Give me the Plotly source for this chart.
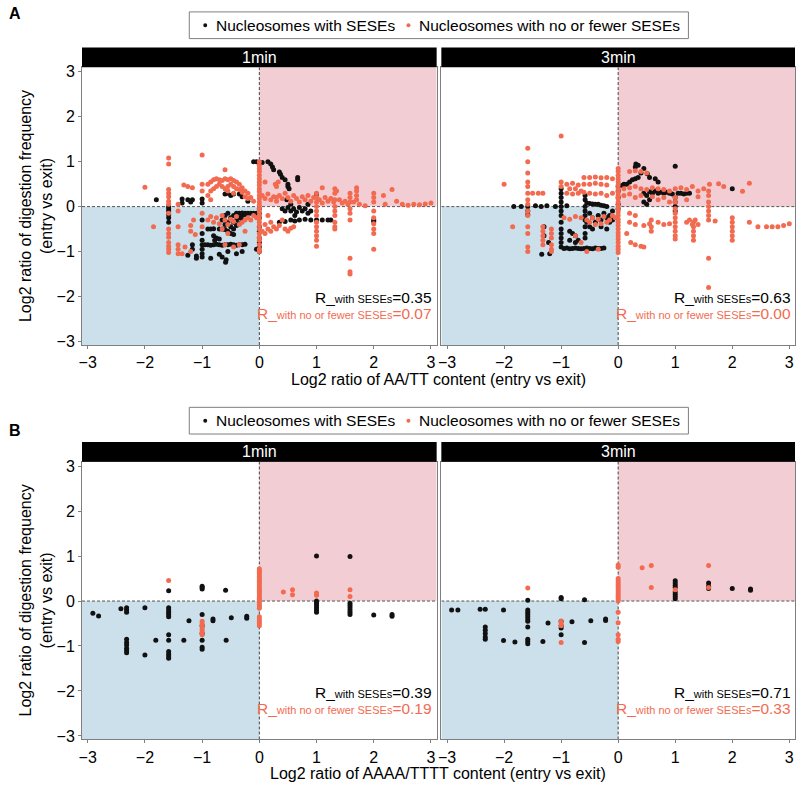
import plotly.graph_objects as go

# ---------------- DATA ----------------
facets = ["1min", "3min"]
tick_vals = [-3, -2, -1, 0, 1, 2, 3]
tick_text = ["\u22123", "\u22122", "\u22121", "0", "1", "2", "3"]
legend_names = ["Nucleosomes with SESEs", "Nucleosomes with no or fewer SESEs"]
r_ses = {"A1": "0.35", "A3": "0.63", "B1": "0.39", "B3": "0.71"}
r_noses = {"A1": "0.07", "A3": "0.00", "B1": "0.19", "B3": "0.33"}
x_titles = ["Log2 ratio of AA/TT content (entry vs exit)",
            "Log2 ratio of AAAA/TTTT content (entry vs exit)"]
y_title = "Log2 ratio of digestion frequency<br>(entry vs exit)"

# Panel A, 1min, with SESEs
a1_ses_x = [-1.585, -1.585, -1.585, -1.585, -1.585, -1.585, -1.8, -1.35, -1.25, -1.35, -1.2, -1.17,
            -1.0, -1.0, -1.0, -1.0, -1.0, -1.0, -1.0, -1.0, -1.0, -1.17, -1.17, -1.25, -1.1, -1.1,
            -0.95, -0.9, -0.85, -0.8, -0.75, -0.7, -0.65, -0.6, -0.55, -0.5, -0.45, -0.4, -0.35, -0.3, -0.25,
            -0.9, -0.85, -0.8, -0.7, -0.65, -0.6, -0.8, -0.75, -0.7, -0.78,
            -0.7, -0.59, -0.58, -0.55, -0.4, -0.3, -0.85, -0.65,
            -0.65, -0.6, -0.6, -0.55, -0.55, -0.5, -0.5, -0.45, -0.45, -0.45, -0.4, -0.4, -0.4, -0.35, -0.35,
            -0.3, -0.3, -0.25, -0.55, -0.5, -0.45,
            -0.35, -0.3, -0.25, -0.2, -0.15, -0.1, -0.05,
            -0.6, -0.55, -0.5, -0.45, -0.35, -0.3, -0.2,
            0.0, 0.0, 0.0, 0.0, 0.0, 0.0, 0.0, 0.0, 0.0, -0.05,
            -0.1, -0.05, 0.05, 0.15, 0.2, 0.23, 0.25, 0.35, 0.37, 0.4, 0.45, 0.5, 0.5, 0.52, 0.67, 0.67, 0.48, 0.55,
            0.4, 0.45, 0.5, 0.55, 0.6, 0.65, 0.7, 0.75, 0.8, 0.85, 0.9,
            0.35, 0.45, 0.55, 0.62, 0.7, 0.8, 0.9, 1.0, 1.1, 1.2, 1.25,
            1.0, 0.85, 0.62, 2.0, 2.0]
a1_ses_y = [0.0, -0.05, -0.1, -0.18, -0.25, -0.35, 0.15, 0.17, 0.15, 0.08, 0.1, 0.15,
            0.17, 0.08, -0.3, -0.6, -0.75, -0.85, -0.95, -1.05, -1.12, -0.85, -0.95, -1.08, -1.1, -1.15,
            -0.85, -0.85, -0.86, -0.85, -0.84, -0.85, -0.86, -0.85, -0.85, -0.84, -0.85, -0.86, -0.85, -0.85, -0.84,
            -0.5, -0.5, -0.49, -0.5, -0.5, -0.51, -0.65, -0.7, -0.72, -0.75,
            -1.06, -1.24, -1.18, -1.0, -1.05, -1.0, -1.15, -1.12,
            -0.3, -0.2, -0.4, -0.15, -0.35, -0.25, -0.45, -0.2, -0.35, -0.5, -0.15, -0.3, -0.42, -0.25, -0.38,
            -0.2, -0.3, -0.18, -0.55, -0.6, -0.62,
            -0.15, -0.14, -0.15, -0.15, -0.15, -0.15, -0.15,
            0.28, 0.3, 0.25, 0.28, 0.28, 0.22, 0.12,
            -0.05, -0.15, -0.25, -0.45, -0.55, -0.7, -0.8, -0.9, -1.0, -0.95,
            1.0, 1.0, 0.98, 1.0, 0.95, 0.88, 0.82, 0.77, 0.72, 0.65, 0.6, 0.5, 0.45, 0.4, 0.65, 0.6, 0.15, 0.05,
            -0.05, -0.1, -0.02, -0.1, -0.05, -0.12, -0.02, -0.1, -0.05, -0.15, -0.1,
            -0.35, -0.33, -0.3, -0.32, -0.3, -0.28, -0.3, -0.3, -0.3, -0.3, -0.3,
            0.28, 0.05, -0.2, -0.33, -0.3]

# Panel A, 1min, no or fewer SESEs
a1_noses_x = [-2.0, -1.85,
              -1.585, -1.585, -1.585, -1.585, -1.585, -1.585, -1.585, -1.585, -1.585, -1.585, -1.585, -1.585, -1.585, -1.585, -1.585,
              -1.32, -1.42, -1.42, -1.42, -1.42, -1.42, -1.42, -1.25, -1.17, -1.15, -1.2, -1.2, -1.2,
              -1.0, -1.0, -1.0, -1.0, -1.0, -0.6,
              -0.9, -0.85, -0.8, -0.75, -0.7, -0.65, -0.6, -0.55, -0.5, -0.45, -0.4, -0.35, -0.3, -0.25, -0.2, -0.15, -0.1,
              -0.85, -0.8, -0.75, -0.7, -0.65, -0.6, -0.55, -0.5, -0.45, -0.4, -0.3, -0.25, -0.2, -0.55, -0.45, -0.35, -0.9, -0.85,
              -0.9, -0.85, -0.8, -0.75, -0.7, -0.65, -0.6, -0.55, -0.5, -0.45, -0.4, -0.35, -0.3, -0.25, -0.2, -0.15, -0.1, -0.05,
              -0.65, -0.55, -0.6, -0.45, -0.35, -0.25, -1.3, -1.35, -1.12,
              0.0, 0.0, 0.0, 0.0, 0.0, 0.0, 0.0, 0.0, 0.0, 0.0, 0.0, 0.0, 0.0, 0.0, 0.0, 0.0, 0.0, 0.0, 0.0, 0.0, 0.0, 0.0, 0.0, 0.0, 0.0, 0.0, 0.0,
              0.1, 0.3, 0.3, 0.28, 0.33,
              0.05, 0.1, 0.15, 0.2, 0.25, 0.3, 0.35, 0.4, 0.45, 0.5, 0.55, 0.6, 0.65, 0.7, 0.75, 0.8, 0.85, 0.9, 0.95, 1.05,
              1.1, 1.15, 1.2, 1.25, 1.3, 1.4, 1.45, 1.5, 1.55, 1.65, 1.75, 1.85, 2.2, 2.4, 2.5, 2.6, 2.7, 2.8, 2.9, 3.0,
              1.0, 1.0, 1.0, 1.0, 1.0, 1.0, 1.0, 1.0, 1.0, 1.0, 1.0, 1.0,
              1.32, 1.32, 1.32, 1.32, 1.32, 1.32, 1.32, 1.32, 1.32,
              1.585, 1.585, 1.585, 1.585, 1.585, 1.585, 1.585, 1.585, 1.585,
              1.7, 1.7, 1.7, 1.7,
              2.0, 2.0, 2.0, 2.0, 2.0, 2.0, 2.0, 2.0, 2.0,
              2.17, 2.32, 1.1, 1.35,
              0.05, 0.1, 0.15, 0.2, 0.25, 0.3, 0.35, 0.45, 0.5, 0.55, 0.6, 0.1, 0.2, 0.4, 0.15]
a1_noses_y = [0.43, -0.45,
              1.08, 0.95, 0.38, 0.3, 0.22, 0.12, 0.05, -0.15, -0.5, -0.6, -0.68, -0.8, -0.88, -0.95, -1.02,
              0.48, 0.05, -0.1, -0.45, -0.85, -0.95, -1.05, 0.45, 0.42, -0.3, -0.42, -0.55, -1.0,
              1.15, 0.5, 0.35, -0.15, -0.45, 0.82,
              0.5, 0.55, 0.6, 0.62, 0.6, 0.58, 0.62, 0.6, 0.62, 0.58, 0.55, 0.5, 0.42, 0.35, 0.3, 0.2, 0.12,
              0.35, 0.4, 0.45, 0.5, 0.45, 0.4, 0.45, 0.5, 0.45, 0.4, 0.32, 0.22, 0.18, 0.35, 0.3, 0.38, 0.25, 0.15,
              -0.3, -0.22, -0.35, -0.25, -0.38, -0.2, -0.3, -0.4, -0.28, -0.33, -0.22, -0.4, -0.35, -0.3, -0.25, -0.3, -0.2, -0.25,
              -0.5, -0.6, -0.85, -0.9, -0.85, -0.55, -0.9, -1.05, -0.62,
              1.0, 0.92, 0.85, 0.78, 0.7, 0.62, 0.55, 0.48, 0.4, 0.33, 0.25, 0.18, 0.1, 0.03, -0.05, -0.12, -0.2, -0.28, -0.35, -0.42, -0.5, -0.6, -0.68, -0.75, -0.85, -0.95, -1.0,
              0.55, 0.45, 0.2, 0.5, 0.55,
              0.25, 0.18, 0.28, 0.15, 0.22, 0.12, 0.25, 0.18, 0.3, 0.2, 0.12, 0.25, 0.18, 0.1, 0.22, 0.15, 0.25, 0.12, 0.2, 0.15,
              0.08, 0.2, 0.12, 0.18, 0.1, 0.15, 0.08, 0.12, 0.05, 0.1, 0.05, 0.02, 0.05, 0.12, 0.05, 0.03, 0.05, 0.04, 0.06, 0.08,
              0.3, 0.2, 0.1, 0.0, -0.1, -0.2, -0.35, -0.45, -0.55, -0.65, -0.75, -0.88,
              0.4, 0.3, 0.15, 0.0, -0.1, -0.2, -0.35, -0.45, -0.5,
              0.3, 0.2, 0.1, -0.05, -0.15, -0.3, -1.15, -1.45, -1.5,
              0.42, 0.35, 0.25, 0.15,
              0.3, 0.2, 0.1, -0.1, -0.25, -0.38, -0.5, -0.6, -0.95,
              0.25, 0.38, 0.42, 0.35,
              -0.55, -0.6, -0.5, -0.55, -0.45, -0.5, -0.42, -0.5, -0.55, -0.48, -0.45, -0.4, -0.35, -0.3, -0.2]

# Panel A, 3min, with SESEs
a3_ses_x = [-1.83, -1.7, -1.585, -1.45, -1.35, -1.25, -1.1, -1.0, -0.9, -1.585, -1.585,
            -1.3, -1.3, -1.22, -1.34, -1.2,
            -1.0, -1.0, -1.0, -1.0, -1.0, -1.0, -1.0, -1.0, -1.0, -1.0, -1.0, -1.0,
            -0.85, -0.8, -0.75, -0.85,
            -0.95, -0.9, -0.85, -0.8, -0.75, -0.7, -0.65, -0.6, -0.55, -0.5, -0.45, -0.4, -0.35, -0.3, -0.25,
            -0.7, -0.75,
            -0.58, -0.58, -0.58, -0.58, -0.58, -0.58, -0.58, -0.58, -0.58,
            -0.55, -0.5, -0.45, -0.4, -0.35, -0.3, -0.25, -0.2,
            -0.5, -0.45, -0.4, -0.35, -0.3, -0.25, -0.2, -0.15, -0.1, -0.5, -0.45, -0.3, -0.15, -0.1, -0.55, -0.2,
            0.0, 0.0, 0.0, 0.0, 0.0,
            0.07, 0.1, 0.15, 0.2, 0.25, 0.3, 0.35, 0.4, 0.31, 0.35, 0.3, 0.45, 0.51, 0.55, 0.65, 0.7, 1.0,
            0.45, 0.5, 0.55, 0.6, 0.65, 0.7, 0.75, 0.8, 0.85, 0.9, 0.95, 1.05, 1.1, 1.15, 1.2, 1.25,
            0.45, 0.5, 0.55,
            1.0, 1.0, 1.0, 1.0, 2.0]
a3_ses_y = [0.0, 0.0, 0.0, 0.02, 0.0, 0.02, 0.0, 0.0, 0.02, -0.1, -0.18,
            -0.45, -0.65, -0.8, -1.06, -1.05,
            0.4, 0.3, 0.2, 0.1, -0.1, -0.2, -0.35, -0.5, -0.6, -0.7, -0.8, -0.9,
            -0.55, -0.6, -0.65, -0.75,
            -0.93, -0.92, -0.94, -0.93, -0.92, -0.93, -0.94, -0.93, -0.92, -0.93, -0.94, -0.92, -0.93, -0.93, -0.92,
            -0.75, -0.8,
            0.25, 0.15, 0.0, -0.1, -0.2, -0.3, -0.45, -0.6, -0.7,
            0.08, 0.07, 0.06, 0.05, 0.05, 0.03, 0.02, 0.0,
            -0.15, -0.25, -0.35, -0.2, -0.3, -0.15, -0.25, -0.2, -0.1, -0.45, -0.5, -0.45, -0.35, -0.3, -0.35, -0.5,
            0.45, 0.35, 0.2, 0.05, -0.05,
            0.47, 0.5, 0.5, 0.55, 0.6, 0.62, 0.65, 0.75, 0.95, 0.92, 0.88, 0.85, 0.73, 0.65, 0.62, 0.55, 0.9,
            0.3, 0.25, 0.33, 0.3, 0.35, 0.3, 0.32, 0.3, 0.32, 0.3, 0.28, 0.3, 0.3, 0.28, 0.3, 0.3,
            0.1, 0.05, 0.15,
            0.2, 0.1, 0.0, -0.1, 0.4]

# Panel A, 3min, no or fewer SESEs
a3_noses_x = [-2.0, -1.85,
              -1.585, -1.585, -1.585, -1.585, -1.585, -1.585, -1.585, -1.585, -1.585, -1.585, -1.585, -1.585, -1.585, -1.585,
              -1.5, -1.4,
              -1.32, -1.32, -1.32, -1.32, -1.32, -1.32,
              -1.17, -1.17, -1.17, -1.17, -1.17, -1.17,
              -1.0, -1.0, -1.0,
              -0.9, -0.8, -0.7, -0.6, -0.5, -0.4, -0.3, -0.2,
              -0.6, -0.5, -0.4, -0.3, -0.2, -0.1,
              -0.9, -0.8, -0.7, -0.6, -0.5, -0.4, -0.3, -0.2, -0.1,
              -0.85, -0.75, -0.65,
              -0.95, -0.85, -0.75, -0.65, -0.55, -0.45, -0.35, -0.25, -0.15, -0.1, -0.05,
              -0.5, -0.4, -0.3, -0.2, -0.75, -0.65, -0.55, -0.35,
              0.0, 0.0, 0.0, 0.0, 0.0, 0.0, 0.0, 0.0, 0.0, 0.0, 0.0, 0.0, 0.0, 0.0, 0.0, 0.0, 0.0, 0.0, 0.0, 0.0, 0.0, 0.0, 0.0, 0.0, 0.0, 0.0,
              0.2, 0.3, 0.4, 0.5,
              0.1, 0.2, 0.3, 0.4, 0.5, 0.6, 0.7, 0.8, 0.9, 1.0, 1.1, 1.2, 1.3, 1.4, 1.5, 1.6,
              0.1, 0.2, 0.3, 0.4, 0.6, 0.7, 0.8, 0.9, 1.2, 1.4, 1.76, 1.85, 2.3, 2.18,
              0.2, 0.3, 0.45, 0.55, 0.7, 0.8, 0.9, 1.2, 1.3, 1.4, 1.7, 2.3, 2.45, 2.6, 2.7, 2.8, 2.9, 3.0,
              0.2, 0.3, 0.15, 0.22, 0.3, 0.4, 0.45,
              0.58, 0.58, 0.58,
              1.0, 1.0, 1.0, 1.0, 1.0, 1.0, 1.0, 1.0, 1.0, 1.0,
              1.32, 1.32, 1.32, 1.32, 1.32,
              1.585, 1.585, 1.585, 1.585, 1.585, 1.585, 1.585, 1.585, 1.585,
              2.0, 2.0, 2.0, 2.0, 2.0, 2.0,
              1.25, 1.35]
a3_noses_y = [0.5, -0.45,
              1.3, 1.0, 0.75, 0.55, 0.45, 0.3, 0.15, 0.05, -0.1, -0.2, -0.45, -0.6, -0.9, -1.0,
              0.3, 0.3,
              0.3, -0.45, -0.55, -0.65, -0.75, -0.85,
              -0.5, -0.6, -0.7, -0.85, -0.95, -1.0,
              1.57, 0.55, 0.45,
              0.5, 0.52, 0.48, 0.5, 0.5, 0.52, 0.5, 0.48,
              0.65, 0.65, 0.66, 0.64, 0.65, 0.62,
              0.3, 0.28, 0.3, 0.32, 0.3, 0.28, 0.3, 0.25, 0.3,
              0.4, 0.4, 0.35,
              -0.25, -0.28, -0.22, -0.25, -0.3, -0.25, -0.28, -0.22, -0.3, -0.2, -0.25,
              -0.35, -0.4, -0.38, -0.35, -0.65, -0.8, -1.0, -0.95,
              0.85, 0.78, 0.7, 0.62, 0.55, 0.48, 0.4, 0.32, 0.25, 0.18, 0.1, 0.02, -0.05, -0.12, -0.2, -0.28, -0.35, -0.42, -0.5, -0.58, -0.65, -0.72, -0.8, -0.88, -0.95, -1.02,
              0.78, 0.8, 0.78, 0.75,
              0.4, 0.42, 0.45, 0.4, 0.38, 0.42, 0.4, 0.38, 0.35, 0.4, 0.42, 0.38, 0.45, 0.35, 0.4, 0.5,
              0.25, 0.28, 0.2, 0.25, 0.22, 0.15, 0.2, 0.1, 0.15, 0.22, 0.51, 0.45, 0.52, 0.34,
              -0.35, -0.4, -0.42, -0.38, -0.35, -0.4, -0.38, -0.35, -0.4, -0.4, -0.32, -0.35, -0.45, -0.45, -0.45, -0.45, -0.42, -0.38,
              -0.15, -0.2, -0.6, -0.8, -0.85, -0.88, -0.9,
              -0.3, -0.45, -0.55,
              0.2, 0.1, -0.05, -0.15, -0.25, -0.35, -0.45, -0.55, -0.65, -0.72,
              -0.35, -0.45, -0.55, -0.65, -0.75,
              0.35, 0.25, 0.1, 0.0, -0.1, -0.2, -0.3, -1.15, -1.8,
              -0.25, -0.35, -0.45, -0.55, -0.65, -0.75,
              -0.3, -0.3]

# Panel B, 1min, with SESEs
b1_ses_x = [-2.91, -2.81, -2.42, -2.32, -2.32, -2.32, -2.32, -2.32, -2.32, -2.32, -2.32, -2.32,
            -2.0, -2.0, -1.81,
            -1.585, -1.585, -1.585, -1.585, -1.585, -1.585, -1.585, -1.585, -1.585, -1.585, -1.585, -1.585,
            -1.32, -1.23, -1.0, -1.0, -1.0, -1.0, -1.0, -1.0, -1.0, -1.0, -1.0,
            -0.81, -0.81, -0.59, -0.58, -0.49, -0.22, -0.22,
            1.0, 1.0, 1.0, 1.0, 1.0, 1.0, 1.0,
            1.585, 1.585, 1.585, 1.585, 1.585, 1.585, 1.585,
            2.0, 2.32, 2.32]
b1_ses_y = [-0.27, -0.33, -0.17, -0.15, -0.2, -0.25, -0.85, -0.92, -0.98, -1.05, -1.1, -1.15,
            -0.15, -1.2, -0.87,
            0.23, -0.15, -0.2, -0.25, -0.3, -0.35, -0.75, -0.87, -1.12, -1.18, -1.22, -1.27,
            -0.87, -0.44, 0.3, 0.33, 0.27, -0.3, -0.55, -0.72, -0.87, -1.03, -1.07,
            -0.4, -0.44, 0.24, -0.87, -0.37, -0.34, -0.38,
            1.0, 0.0, -0.05, -0.1, -0.15, -0.2, -0.25,
            0.99, -0.05, -0.1, -0.15, -0.2, -0.25, -0.3,
            -0.31, -0.3, -0.34]

# Panel B, 1min, no or fewer SESEs
b1_noses_x = [-1.585, -1.0, -1.0, -1.0, -1.0, -1.0, -1.0, -1.0,
              0.0, 0.0, 0.0, 0.0, 0.0, 0.0, 0.0, 0.0, 0.0, 0.0, 0.0, 0.0, 0.0, 0.0, 0.0, 0.0, 0.0, 0.0, 0.0, 0.0,
              0.0, 0.0, 0.0, 0.0, 0.0, 0.0, 0.0, 0.0,
              0.42, 0.58, 0.58, 1.0, 1.0, 1.585, 1.585]
b1_noses_y = [0.46, -0.45, -0.5, -0.55, -0.6, -0.65, -0.7, -0.75,
              0.72, 0.68, 0.64, 0.6, 0.56, 0.52, 0.48, 0.44, 0.4, 0.36, 0.32, 0.28, 0.24, 0.2, 0.16, 0.12, 0.08, 0.04, 0.0, -0.04,
              -0.08, -0.12, -0.16, -0.35, -0.4, -0.45, -0.5, -0.55,
              0.2, 0.25, 0.14, 0.18, 0.13, 0.25, 0.1]

# Panel B, 3min, with SESEs
b3_ses_x = [-2.92, -2.81, -2.42, -2.33, -2.33, -2.33, -2.33, -2.33, -2.33,
            -2.01, -2.01, -1.81,
            -1.585, -1.585, -1.585, -1.585, -1.585, -1.585, -1.585, -1.585, -1.585, -1.585, -1.585,
            -1.32, -1.23, -1.0, -1.0, -1.0, -1.0, -1.0, -1.0,
            -0.81, -0.59, -0.59, -0.48, -0.22, -0.22,
            1.0, 1.0, 1.0, 1.0, 1.0, 1.0, 1.0, 1.0,
            1.585, 1.585, 1.585, 2.0, 2.32, 2.32]
b3_ses_y = [-0.2, -0.2, -0.18, -0.18, -0.58, -0.65, -0.72, -0.8, -0.85,
            -0.2, -0.88, -0.91,
            0.02, -0.2, -0.25, -0.3, -0.35, -0.4, -0.45, -0.58, -0.85, -0.9, -0.95,
            -0.9, -0.49, 0.05, 0.08, -0.45, -0.55, -0.6, -0.75,
            -0.46, 0.03, -0.92, -0.44, -0.4, -0.43,
            0.45, 0.4, 0.35, 0.3, 0.2, 0.15, 0.1, 0.05,
            0.4, 0.33, 0.28, 0.28, 0.27, 0.24]

# Panel B, 3min, no or fewer SESEs
b3_noses_x = [-1.585, -1.0, -1.0, -1.0, -1.0,
              0.0, 0.0, 0.0, 0.0, 0.0, 0.0, 0.0, 0.0, 0.0, 0.0, 0.0, 0.0, 0.0, 0.0, 0.0, 0.0, 0.0, 0.0,
              0.42, 0.58, 0.58, 1.0, 1.585, 1.585]
b3_noses_y = [0.29, -0.45, -0.5, -0.55, -0.92,
              0.8, 0.75, 0.5, 0.45, 0.4, 0.35, 0.3, 0.25, 0.2, 0.15, 0.1, 0.05, 0.0, -0.25, -0.48, -0.75, -0.85, -0.9,
              0.74, 0.79, 0.3, 0.25, 0.79, 0.3]

# ---------------- STYLE / LAYOUT ----------------
W, H = 796, 787
FONT = "Liberation Sans, Arial, sans-serif"
FS = 16
LEG_FS = 15.5
BLACK = "#111111"
RED = "#F26B50"
PINK = "#F2CED4"
BLUE = "#CCE0EC"
BORDER = "#7F7F7F"

def px(x):
    return x / W

def py(y):
    return 1 - y / H

XL = (79.3, 435.3)
XR = (440.0, 795.0)
YA = (64.0, 345.0)
YB = (463.0, 744.0)
XRANGE = [-3.1, 3.1]
YRANGE = [-3.08, 3.1]

panels = [
    ("A1", "x", "y", XL, YA, a1_ses_x, a1_ses_y, a1_noses_x, a1_noses_y),
    ("A3", "x2", "y2", XR, YA, a3_ses_x, a3_ses_y, a3_noses_x, a3_noses_y),
    ("B1", "x3", "y3", XL, YB, b1_ses_x, b1_ses_y, b1_noses_x, b1_noses_y),
    ("B3", "x4", "y4", XR, YB, b3_ses_x, b3_ses_y, b3_noses_x, b3_noses_y),
]

fig = go.Figure()
shapes = []
annotations = []
layout = {}

for key, xa, ya, xd, yd, sx, sy, nx, ny in panels:
    fig.add_trace(go.Scatter(x=sx, y=sy, mode="markers", xaxis=xa, yaxis=ya, showlegend=False,
                             name=legend_names[0],
                             marker=dict(color=BLACK, size=5, line=dict(width=0)), hoverinfo="skip"))
    fig.add_trace(go.Scatter(x=nx, y=ny, mode="markers", xaxis=xa, yaxis=ya, showlegend=False,
                             name=legend_names[1],
                             marker=dict(color=RED, size=5, line=dict(width=0)), hoverinfo="skip"))
    xname = "xaxis" + xa[1:]
    yname = "yaxis" + ya[1:]
    left = key.endswith("1")
    layout[xname] = dict(domain=[px(xd[0]), px(xd[1])], anchor=ya, range=XRANGE,
                         showgrid=False, zeroline=False, showline=True, mirror=True,
                         linecolor=BORDER, linewidth=1, ticks="outside", ticklen=3,
                         tickcolor=BORDER, tickvals=tick_vals, ticktext=tick_text,
                         tickfont=dict(size=FS, color="black", family=FONT), fixedrange=True)
    layout[yname] = dict(domain=[py(yd[1]), py(yd[0])], anchor=xa, range=YRANGE,
                         showgrid=False, zeroline=False, showline=True, mirror=True,
                         linecolor=BORDER, linewidth=1,
                         ticks="outside" if left else "", ticklen=3, tickcolor=BORDER,
                         tickvals=tick_vals, ticktext=tick_text, showticklabels=left,
                         tickfont=dict(size=FS, color="black", family=FONT), fixedrange=True)
    # quadrant shading
    shapes.append(dict(type="rect", xref=xa, yref=ya, x0=0, x1=3.1, y0=0, y1=3.1,
                       fillcolor=PINK, line=dict(width=0), layer="below"))
    shapes.append(dict(type="rect", xref=xa, yref=ya, x0=-3.1, x1=0, y0=-3.08, y1=0,
                       fillcolor=BLUE, line=dict(width=0), layer="below"))
    shapes.append(dict(type="line", xref=xa, yref=ya, x0=0, x1=0, y0=-3.08, y1=3.1,
                       line=dict(color="#444444", width=1, dash="3px,2px"), layer="below"))
    shapes.append(dict(type="line", xref=xa, yref=ya, x0=-3.1, x1=3.1, y0=0, y1=0,
                       line=dict(color="#555555", width=1, dash="3px,2px"), layer="below"))
    # strip
    shapes.append(dict(type="rect", xref="paper", yref="paper", x0=px(xd[0]), x1=px(xd[1]),
                       y0=py(yd[0]), y1=py(yd[0] - 20), fillcolor="black", line=dict(width=0)))
    annotations.append(dict(xref="paper", yref="paper", x=px((xd[0] + xd[1]) / 2), y=py(yd[0] - 10),
                            text=facets[0] if left else facets[1], showarrow=False,
                            font=dict(size=FS, color="white", family=FONT),
                            xanchor="center", yanchor="middle"))
    # correlation labels
    annotations.append(dict(xref="paper", yref="paper", x=px(xd[1] - 2.5), y=py(yd[0] + 233),
                            text="R_<span style='font-size:11px'>with SESEs</span>=" + r_ses[key],
                            showarrow=False, font=dict(size=15.5, color="black", family=FONT),
                            xanchor="right", yanchor="middle"))
    annotations.append(dict(xref="paper", yref="paper", x=px(xd[1] - 2.5), y=py(yd[0] + 249.5),
                            text="R_<span style='font-size:11px'>with no or fewer SESEs</span>=" + r_noses[key],
                            showarrow=False, font=dict(size=15.5, color=RED, family=FONT),
                            xanchor="right", yanchor="middle"))

# legends (boxed, horizontal) drawn for each panel
for top in (8, 408):
    shapes.append(dict(type="rect", xref="paper", yref="paper", x0=px(187), x1=px(688),
                       y0=py(top + 27), y1=py(top), fillcolor="white",
                       line=dict(color=BORDER, width=1)))
    cy = top + 13.5
    for dot_x, text_x, name, col in [(203, 212, legend_names[0], BLACK),
                                     (407, 416, legend_names[1], RED)]:
        shapes.append(dict(type="circle", xref="paper", yref="paper",
                           x0=px(dot_x - 2), x1=px(dot_x + 2), y0=py(cy + 2), y1=py(cy - 2),
                           fillcolor=col, line=dict(width=0)))
        annotations.append(dict(xref="paper", yref="paper", x=px(text_x), y=py(cy), text=name,
                                showarrow=False, xanchor="left", yanchor="middle",
                                font=dict(size=LEG_FS, color="black", family=FONT)))

# axis titles
for i, (ymid, xt_y) in enumerate([((YA[0] + YA[1]) / 2, 380), ((YB[0] + YB[1]) / 2, 778)]):
    annotations.append(dict(xref="paper", yref="paper", x=px(33), y=py(ymid), text=y_title,
                            textangle=-90, showarrow=False, xanchor="center", yanchor="middle",
                            font=dict(size=FS, color="black", family=FONT)))
    annotations.append(dict(xref="paper", yref="paper", x=px(437), y=py(xt_y), text=x_titles[i],
                            showarrow=False, xanchor="center", yanchor="middle",
                            font=dict(size=FS, color="black", family=FONT)))

annotations.append(dict(xref="paper", yref="paper", x=px(12), y=py(10), text="<b>A</b>",
                        showarrow=False, xanchor="center", yanchor="middle",
                        font=dict(size=FS, color="black", family=FONT)))
annotations.append(dict(xref="paper", yref="paper", x=px(12), y=py(431), text="<b>B</b>",
                        showarrow=False, xanchor="center", yanchor="middle",
                        font=dict(size=FS, color="black", family=FONT)))

fig.update_layout(width=W, height=H, margin=dict(l=0, r=0, t=0, b=0),
                  paper_bgcolor="white", plot_bgcolor="white", showlegend=False,
                  font=dict(family=FONT, size=FS, color="black"),
                  shapes=shapes, annotations=annotations, **layout)

fig.write_html("out.html", config={"displayModeBar": False},
               post_script="document.body.style.margin='0px';")
